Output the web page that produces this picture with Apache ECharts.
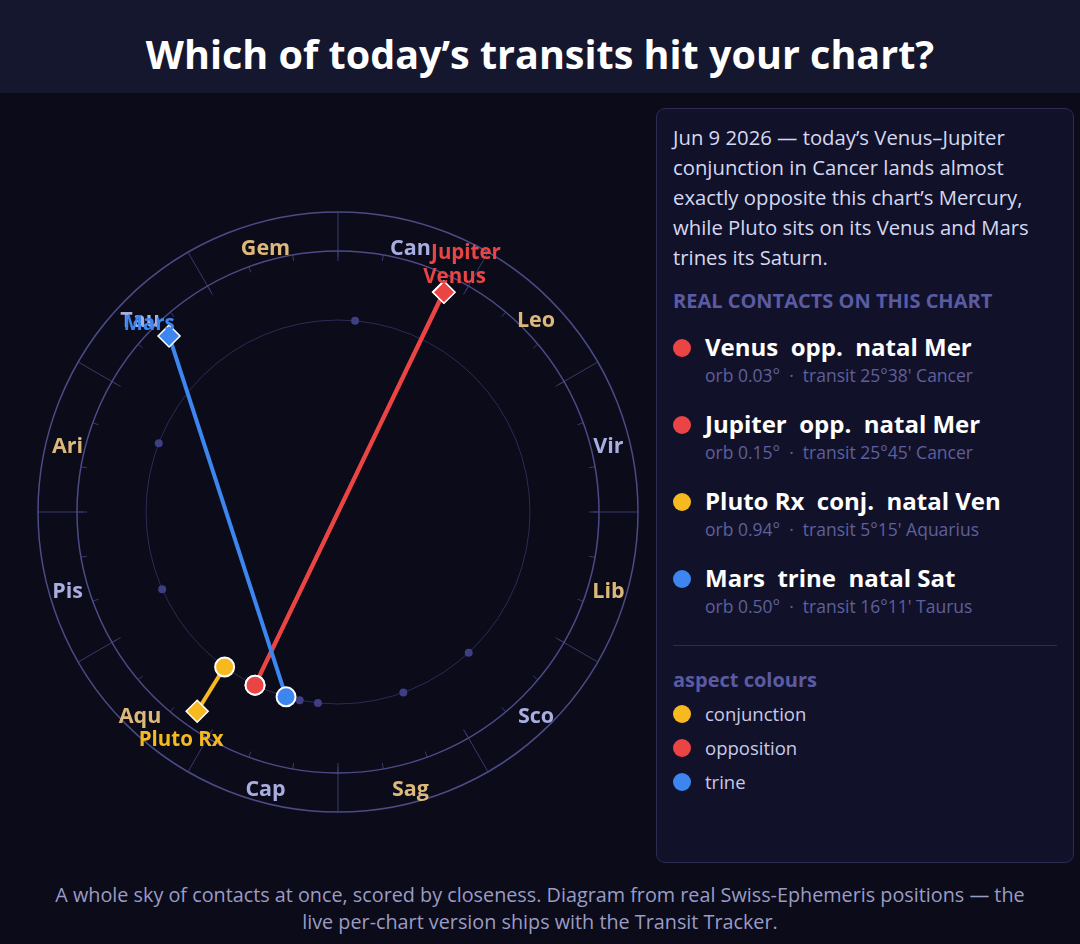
<!DOCTYPE html>
<html><head><meta charset="utf-8">
<script src="https://cdn.jsdelivr.net/npm/echarts@6/dist/echarts.min.js"></script>
<style>
html,body{margin:0;padding:0;background:#0b0b1a;width:1080px;height:944px;overflow:hidden;font-family:"Open Sans","Noto Sans",sans-serif;}
#title{position:absolute;left:0;top:0;width:1080px;height:93px;background:#15172e;color:#fff;font-weight:700;font-size:39.5px;text-align:center;line-height:108px;}
#chart{position:absolute;left:0;top:93px;width:650px;height:780px;}
#panel{position:absolute;left:656px;top:108px;width:418px;height:755px;box-sizing:border-box;border:1px solid #2c2c52;border-radius:9px;background:#11122a;padding:13px 16px;color:#d4d6f0;}
#intro{font-size:20.3px;line-height:30px;color:#d6d8f2;}
.hdr{font-weight:700;font-size:20px;color:#5b5ba3;margin-top:15px;}
.item{margin-top:21px;position:relative;padding-left:32px;}
.item.first{margin-top:18px;}
.dot{position:absolute;left:0;top:7px;width:18px;height:18px;border-radius:50%;}
.it{font-weight:700;font-size:24px;color:#fff;line-height:30px;white-space:pre;}
.sub{font-size:17.5px;color:#5f5f9c;line-height:26px;white-space:pre;}
hr{border:none;border-top:1px solid #2c2c52;margin:26px 0 0 0;}
.lg{font-size:18.5px;color:#c8cae8;position:relative;padding-left:32px;line-height:34px;}
.lg .dot{top:8px;}
#foot{position:absolute;left:0;top:881px;width:1080px;text-align:center;color:#9a9cc4;font-size:19.8px;line-height:27px;}
</style></head><body>
<div id="title">Which of today’s transits hit your chart?</div>
<div id="chart"></div>
<div id="panel"></div>
<div id="foot">A whole sky of contacts at once, scored by closeness. Diagram from real Swiss-Ephemeris positions — the<br>live per-chart version ships with the Transit Tracker.</div>
<script>
const signs = ['Ari','Tau','Gem','Can','Leo','Vir','Lib','Sco','Sag','Cap','Aqu','Pis'];
const signColors = ['#dcb87a','#a9aee0'];
const transitNames = ['Venus','Jupiter','Pluto Rx','Mars'];
const transitLon = [115.63, 115.75, 305.25, 46.18];
const natalNames = ['Mer','Mer','Ven','Sat'];
const natalLon = [295.6, 295.6, 306.19, 285.7];
const aspectNames = ['opp.','opp.','conj.','trine'];
const orbs = ['0.03°','0.15°','0.94°','0.50°'];
const transitPos = ["25°38' Cancer","25°45' Cancer","5°15' Aquarius","16°11' Taurus"];
const aspectColors = {'conj.':'#f6b920','opp.':'#ea4444','trine':'#3d86f0'};
const otherNatalLon = [95.1, 21, 336.3, 227.1, 250.1, 281.5, 276];
const legendNames = ['conjunction','opposition','trine'];
const legendColors = ['#f6b920','#ea4444','#3d86f0'];

let h = '<div id="intro">Jun 9 2026 — today’s Venus–Jupiter conjunction in Cancer lands almost exactly opposite this chart’s Mercury, while Pluto sits on its Venus and Mars trines its Saturn.</div>';
h += '<div class="hdr">REAL CONTACTS ON THIS CHART</div>';
transitNames.forEach((n,i)=>{
  h += `<div class="item${i===0?' first':''}"><div class="dot" style="background:${aspectColors[aspectNames[i]]}"></div><div class="it">${n}  ${aspectNames[i]}  natal ${natalNames[i]}</div><div class="sub">orb ${orbs[i]}  ·  transit ${transitPos[i]}</div></div>`;
});
h += '<hr><div class="hdr" style="margin-top:20px;margin-bottom:4px">aspect colours</div>';
legendNames.forEach((n,i)=>{ h += `<div class="lg"><div class="dot" style="background:${legendColors[i]}"></div>${n}</div>`; });
document.getElementById('panel').innerHTML = h;

const RT = 244, RN = 192, RL = 280, RMAX = 300;
const chart = echarts.init(document.getElementById('chart'));
const cx = 338, cy = 419;
function polar(r){ return {center:[cx,cy], radius:[0,r]}; }
function angleAx(idx, opts){ return Object.assign({polarIndex:idx,type:'value',min:0,max:360,startAngle:180,clockwise:true,splitLine:{show:false},axisLabel:{show:false},axisTick:{show:false},axisLine:{show:false}},opts); }
function radAx(idx){ return {polarIndex:idx,type:'value',min:0,max:RMAX,show:false}; }
const series = [];
series.push({type:'scatter',coordinateSystem:'polar',polarIndex:0,symbolSize:8,itemStyle:{color:'#3e3e84',opacity:1},data:otherNatalLon.map(l=>[RN,l]),z:2});
series.push({type:'scatter',coordinateSystem:'polar',polarIndex:0,symbolSize:1,itemStyle:{opacity:1,color:'rgba(0,0,0,0)'},
  data:signs.map((s,i)=>({value:[RL,15+30*i],name:s,label:{color:signColors[i%2]}})),
  label:{show:true,formatter:'{b}',position:'inside',offset:[0,7],fontSize:21.5,fontWeight:'bold',fontFamily:'Open Sans',opacity:1},z:3});
transitNames.forEach((n,i)=>{
  const c = aspectColors[aspectNames[i]];
  series.push({type:'line',coordinateSystem:'polar',polarIndex:0,symbol:'none',lineStyle:{color:c,width:4,opacity:1},data:[[RN,natalLon[i]],[RT,transitLon[i]]],z:4,silent:true});
});
series.push({type:'scatter',coordinateSystem:'polar',polarIndex:0,symbol:'circle',symbolSize:19,
  data:natalLon.map((l,i)=>({value:[RN,l],itemStyle:{color:aspectColors[aspectNames[i]]}})),
  itemStyle:{borderColor:'#fff',borderWidth:2,opacity:1},z:5});
const labOff = {'Venus':[11,-15],'Jupiter':[22,-39],'Pluto Rx':[-16,29],'Mars':[-20,-12]};
series.push({type:'scatter',coordinateSystem:'polar',polarIndex:0,symbol:'diamond',symbolSize:[22,22],
  data:transitLon.map((l,i)=>({value:[RT,l],name:transitNames[i],itemStyle:{color:aspectColors[aspectNames[i]]},
    label:{show:true,formatter:'{b}',color:aspectColors[aspectNames[i]],offset:labOff[transitNames[i]],position:'inside',fontSize:20.5,fontWeight:'bold',fontFamily:'Open Sans'}})),
  itemStyle:{borderColor:'#fff',borderWidth:1.5,opacity:1},z:6});

chart.setOption({
  backgroundColor:'transparent',
  animation:false,
  polar:[polar(RMAX),polar(261),polar(RN)],
  angleAxis:[
    angleAx(0,{interval:30,axisLine:{show:true,lineStyle:{color:'#4b4b86',width:1.5}},axisTick:{show:true,inside:true,length:49,lineStyle:{color:'#3a3a6c',width:1}}}),
    angleAx(1,{interval:10,axisLine:{show:true,lineStyle:{color:'#4b4b86',width:1.5}},axisTick:{show:true,inside:true,length:6,lineStyle:{color:'#3a3a6c'}}}),
    angleAx(2,{interval:30,axisLine:{show:true,lineStyle:{color:'#2c2c56',width:1}}})
  ],
  radiusAxis:[radAx(0),radAx(1),radAx(2)],
  series
});
</script></body></html>
